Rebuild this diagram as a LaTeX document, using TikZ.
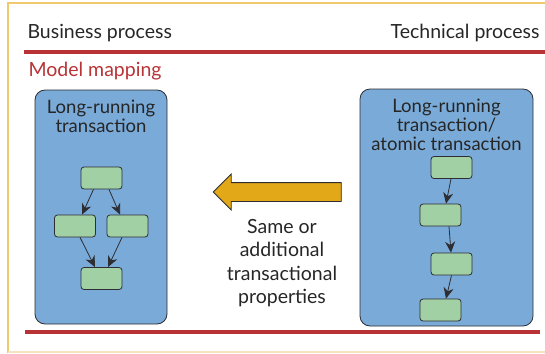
\documentclass[tikz,border=0pt]{standalone}
\usepackage{fontspec}
\setmainfont{Lato}
\usetikzlibrary{arrows.meta,shapes.arrows,positioning}
\definecolor{hdrred}{RGB}{184,50,54}
\definecolor{laneblue}{RGB}{122,170,216}
\definecolor{taskgreen}{RGB}{160,208,164}
\definecolor{mapgold}{RGB}{226,168,24}
\definecolor{framegold}{RGB}{240,200,110}
\definecolor{framepale}{RGB}{246,226,190}
\definecolor{edgegray}{RGB}{45,45,50}

\begin{document}
\begin{tikzpicture}[x=1pt, y=-1pt,
  every node/.style={font=\fontsize{18.5}{19}\selectfont, text=black!85},
  lane/.style={draw=edgegray, thick, fill=laneblue, rounded corners=10pt,
               inner sep=0pt},
  lanetitle/.style={align=center, inner sep=0pt, anchor=north},
  task/.style={draw=edgegray, thick, fill=taskgreen, rounded corners=3pt,
               minimum width=41pt, minimum height=22pt, inner sep=0pt},
  flow/.style={-{Stealth[length=11pt, width=10pt]}, thick, edgegray},
  rule/.style={line width=4pt, hdrred},
  hdr/.style={font=\fontsize{19.5}{20}\selectfont},
  mapping/.style={single arrow, draw=edgegray, thick, fill=mapgold,
                  minimum height=128pt, minimum width=35pt,
                  single arrow head extend=8.5pt, single arrow tip angle=90,
                  shape border rotate=180, inner xsep=0pt, inner ysep=9pt},
]
\useasboundingbox (0,0) rectangle (545,353);

%% Outer frame
\draw[framegold, line width=1.5pt] (8,353) -- (8,3) -- (545,3);
\draw[framepale, line width=1.5pt] (8,352) -- (545,352);

%% Header
\node[hdr, anchor=base west] (bp) at (24,38) {Business process};
\node[hdr, anchor=base east] (tp) at (543,38) {Technical process};
\draw[rule] (24,52) -- (545,52);
\node[hdr, anchor=base west, text=hdrred] (mm) at (25,76) {Model mapping};
\draw[rule] (25,332) -- (540,332);

%% Business side
\node[lane, minimum width=132pt, minimum height=234pt] (lrt) at (101,207) {};
\node[lanetitle, below=10pt of lrt.north] (lrttitle) {Long-running\\transaction};
\node[task] (t1) at (101.5,178) {};
\node[task] (t2) at (75,226) {};
\node[task] (t3) at (127.5,226) {};
\node[task] (t4) at (101.5,278.5) {};
\draw[flow] ([xshift=-8pt]t1.south) -- ([xshift=7pt]t2.north);
\draw[flow] ([xshift=7.5pt]t1.south) -- ([xshift=-7.5pt]t3.north);
\draw[flow] ([xshift=5pt]t2.south) -- ([xshift=-6.5pt]t4.north);
\draw[flow] ([xshift=-5.5pt]t3.south) -- ([xshift=6.5pt]t4.north);

%% Technical side
\node[lane, minimum width=173pt, minimum height=237pt] (atx) at (446.5,207.5) {};
\node[lanetitle, below=10pt of atx.north] (atxtitle)
  {Long-running\\transaction/\\atomic transaction};
\node[task] (r1) at (451.5,167.5) {};
\node[task] (r2) at (440.5,215) {};
\node[task] (r3) at (451.5,264) {};
\node[task] (r4) at (440.5,310) {};
\draw[flow] ([xshift=-0.5pt]r1.south) -- ([xshift=5.5pt]r2.north);
\draw[flow] ([xshift=8.5pt]r2.south) -- ([xshift=-0.5pt]r3.north);
\draw[flow] (r3.south) -- ([xshift=5.5pt]r4.north);

%% Mapping arrow
\node[mapping] (map) at (282,192) {};
\node[align=center, inner sep=0pt, anchor=north,
      font=\fontsize{19.5}{23.5}\selectfont, below=17pt of map.south] (props)
  {Same or\\additional\\transactional\\properties};

\end{tikzpicture}
\end{document}
